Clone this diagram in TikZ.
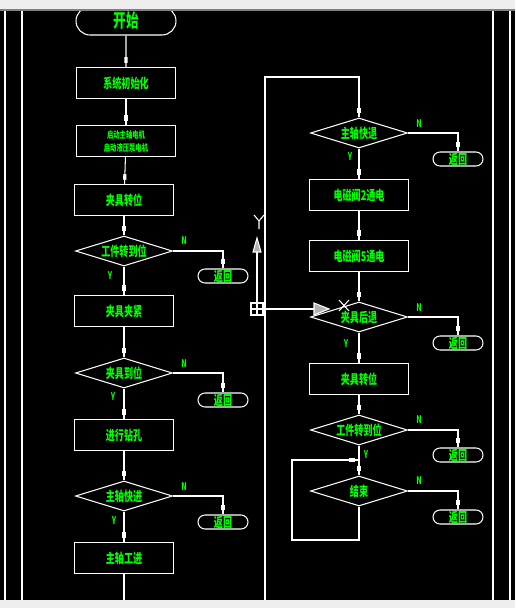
\documentclass[tikz,border=0pt]{standalone}
\usepackage{fontspec}
\newfontfamily\cjk[FakeStretch=0.68]{Noto Sans CJK SC}
\usepackage{tikz}
\usetikzlibrary{shapes,calc,positioning,decorations.markings}

\definecolor{cadgreen}{RGB}{0,255,0}
\definecolor{uibar}{RGB}{238,238,238}

\begin{document}
\begin{tikzpicture}[x=0.02cm, y=-0.02cm, line width=0.6pt,
    every node/.append style={font=\cjk\bfseries\fontsize{7.6}{8}\selectfont, text=cadgreen},
    box/.style={draw=white, rectangle, minimum width=1.97cm, minimum height=0.62cm, inner sep=0pt},
    dia/.style={draw=white, diamond, minimum width=1.94cm, minimum height=0.6cm, inner sep=0pt},
    term/.style={draw=white, rounded rectangle, minimum width=1cm, minimum height=0.28cm, inner sep=0pt},
    yn/.style={font=\cjk\bfseries\fontsize{6}{6}\selectfont},
    link/.style={draw=white, postaction={decorate, decoration={markings,
      mark=at position -4pt with {\fill[white] (-1.6pt,-0.9pt) rectangle (1.6pt,0.9pt);}}}}]
  \useasboundingbox (0,0) rectangle (515,608);
  \fill[black] (0,0) rectangle (515,608);
  % frame lines
  \draw[white] (5,10) -- (5,600) (22,10) -- (22,600);
  \draw[white] (493,10) -- (493,600) (510,10) -- (510,600);

  % left column
  \node[term, minimum width=2cm, minimum height=0.56cm, font=\cjk\bfseries\fontsize{10.5}{11}\selectfont] (start) at (126,21) {开始};
  \node[box] (init) at (126,83) {系统初始化};
  \node[box, align=center, font=\cjk\bfseries\fontsize{5.3}{7.4}\selectfont] (motor) at (126,141) {启动主轴电机\\启动液压泵电机};
  \node[box] (turn1) at (124,200) {夹具转位};
  \node[dia, label=center:工件转到位] (pos1) at (124,251) {};
  \node[term] (ret1) at (223,276) {返回};
  \node[box] (clamp) at (124,311) {夹具夹紧};
  \node[dia, label=center:夹具到位] (pos2) at (124,373) {};
  \node[term] (ret2) at (223,400) {返回};
  \node[box] (drill) at (124,435) {进行钻孔};
  \node[dia, label=center:主轴快进] (fast1) at (124,496) {};
  \node[term] (ret3) at (223,522) {返回};
  \node[box] (feed) at (124,558) {主轴工进};
  \coordinate (pageend) at (124,600);

  \node[yn] (n1) at (184,241) {N};
  \node[yn] (y1) at (110,276) {Y};
  \node[yn] (n2) at (184,364) {N};
  \node[yn] (y2) at (113,397) {Y};
  \node[yn] (n3) at (184,487) {N};
  \node[yn] (y3) at (114,521) {Y};

  \draw[link] (start) -- (init);
  \draw[link] (init) -- (motor);
  \draw[link] (motor) -- (turn1);
  \draw[link] (turn1) -- (pos1);
  \draw[link] (pos1.east) -| (ret1.north);
  \draw[link] (pos1) -- (clamp);
  \draw[link] (clamp) -- (pos2);
  \draw[link] (pos2.east) -| (ret2.north);
  \draw[link] (pos2) -- (drill);
  \draw[link] (drill) -- (fast1);
  \draw[link] (fast1.east) -| (ret3.north);
  \draw[link] (fast1) -- (feed);
  \draw[white] (feed) -- (pageend);

  % right column
  \coordinate (cont) at (265,600);
  \coordinate (top) at (359,77);
  \node[dia, label=center:主轴快退] (back1) at (359,133) {};
  \node[term] (ret4) at (458,159) {返回};
  \node[box] (valve2) at (359,195) {电磁阀2通电};
  \node[box] (valve5) at (359,256) {电磁阀5通电};
  \node[dia, label=center:夹具后退] (back2) at (359,317) {};
  \node[term] (ret5) at (458,343) {返回};
  \node[box] (turn2) at (359,379) {夹具转位};
  \node[dia, label=center:工件转到位] (pos3) at (359,430) {};
  \node[term] (ret6) at (458,455) {返回};
  \node[dia, label=center:结束] (stop) at (359,491) {};
  \node[term] (ret7) at (458,517) {返回};
  \coordinate (loopin) at (359,460);
  \coordinate (loopbot) at (292,540);

  \node[yn] (n4) at (419,124) {N};
  \node[yn] (y4) at (350,157) {Y};
  \node[yn] (n5) at (419,308) {N};
  \node[yn] (y5) at (346,344) {Y};
  \node[yn] (n6) at (419,420) {N};
  \node[yn] (y6) at (366,455) {Y};
  \node[yn] (n7) at (419,481) {N};

  \draw[link] (cont) |- (top) -- (back1.north);
  \draw[link] (back1.east) -| (ret4.north);
  \draw[link] (back1) -- (valve2);
  \draw[link] (valve2) -- (valve5);
  \draw[link] (valve5) -- (back2);
  \draw[link] (back2.east) -| (ret5.north);
  \draw[link] (back2) -- (turn2);
  \draw[link] (turn2) -- (pos3);
  \draw[link] (pos3.east) -| (ret6.north);
  \draw[link] (pos3) -- (stop);
  \draw[link] (stop.east) -| (ret7.north);
  \draw[link] (stop.south) |- (loopbot) |- (loopin);

  % UCS icon
  \draw[white] (251,303) rectangle (263,315);
  \draw[white] (257,303) -- (257,315) (251,309) -- (263,309);
  \draw[white] (257,303) -- (257,252);
  \draw[white, fill=gray!60] (253,252) -- (257,238) -- (261,252) -- cycle;
  \draw[white] (254,215) -- (259,221) -- (264,215) (259,221) -- (259,229);
  \draw[white] (263,309) -- (314,309);
  \draw[white, fill=gray!60] (314,303) -- (329,309) -- (314,315) -- cycle;
  \draw[white] (339,300) -- (349,311) (349,300) -- (339,311);

  % window bars
  \fill[uibar] (0,0) rectangle (515,10);
  \draw[gray] (0,10) -- (515,10);
  \fill[uibar] (0,600) rectangle (515,608);
\end{tikzpicture}
\end{document}
